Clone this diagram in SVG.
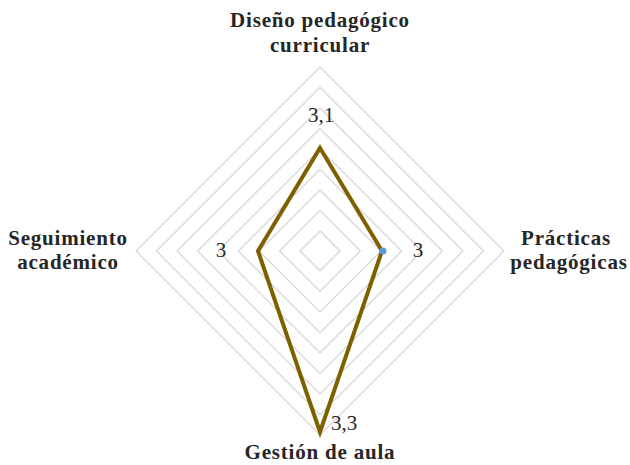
<svg xmlns="http://www.w3.org/2000/svg" width="630" height="465" viewBox="0 0 630 465">
<style>
.grid{fill:none;stroke:#d4d4d4;stroke-width:1.2}
.cat{font-family:"Liberation Serif","Times New Roman",serif;font-weight:bold;font-size:21px;letter-spacing:0.8px;fill:#262626;text-anchor:middle}
.val{font-family:"Liberation Serif","Times New Roman",serif;font-size:21px;fill:#262626;text-anchor:middle}
.series{fill:none;stroke:#7f6000;stroke-width:4;stroke-linejoin:miter}
</style>
<rect width="630" height="465" fill="#ffffff"/>
<g id="grid">
<polygon class="grid" points="320,231 340,251 320,271 300,251"/>
<polygon class="grid" points="320,210.6 360.4,251 320,291.4 279.6,251"/>
<polygon class="grid" points="320,190 381,251 320,312 259,251"/>
<polygon class="grid" points="320,169.4 401.6,251 320,332.6 238.4,251"/>
<polygon class="grid" points="320,149 422,251 320,353 218,251"/>
<polygon class="grid" points="320,128.6 442.4,251 320,373.4 197.6,251"/>
<polygon class="grid" points="320,108 463,251 320,394 177,251"/>
<polygon class="grid" points="320,87.4 483.6,251 320,414.6 156.4,251"/>
<polygon class="grid" points="320,67 504,251 320,435 136,251"/>
</g>
<g id="series">
<polygon class="series" points="320,148 382,251 320,432 258,251"/>
<circle cx="383" cy="251" r="3.5" fill="#5b9bd5"/>
</g>
<g id="values">
<text class="val" x="321" y="122">3,1</text>
<text class="val" x="418" y="257">3</text>
<text class="val" x="344" y="430">3,3</text>
<text class="val" x="221" y="257">3</text>
</g>
<g id="node-diseno">
<text class="cat" x="320" y="27">Diseño pedagógico</text>
<text class="cat" x="320" y="52">curricular</text>
</g>
<g id="node-practicas">
<text class="cat" x="566" y="245">Prácticas</text>
<text class="cat" x="569" y="269">pedagógicas</text>
</g>
<g id="node-gestion">
<text class="cat" x="320" y="459">Gestión de aula</text>
</g>
<g id="node-seguimiento">
<text class="cat" x="68" y="245">Seguimiento</text>
<text class="cat" x="68" y="269">académico</text>
</g>
</svg>
